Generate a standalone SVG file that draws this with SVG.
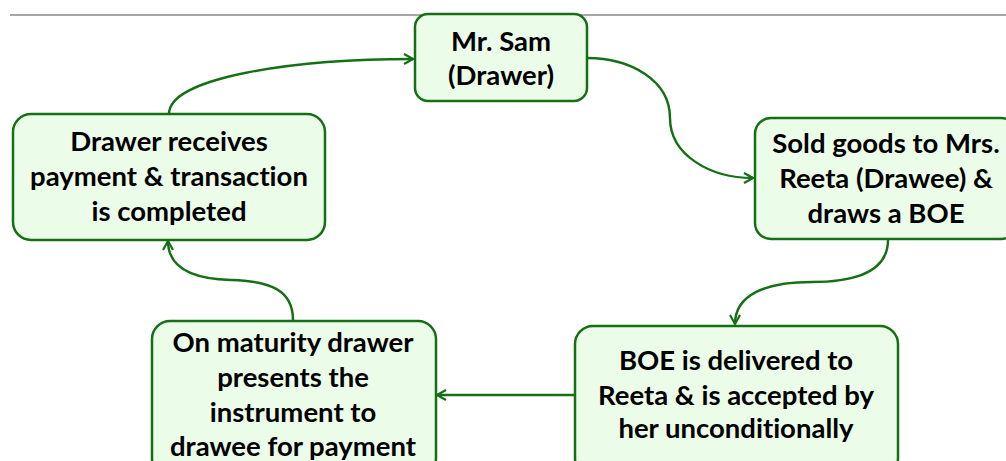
<svg xmlns="http://www.w3.org/2000/svg" width="1006" height="461" viewBox="0 0 1006 461">
<defs>
<style>
.box{fill:#EBFCE8;stroke:#157015;stroke-width:2.5}
.conn{fill:none;stroke:#157015;stroke-width:2.4;marker-end:url(#arr)}
text{font-family:Lato,"Liberation Sans",sans-serif;font-weight:bold;font-size:27.5px;fill:#000;text-anchor:middle;font-variant-ligatures:none}
</style>
<marker id="arr" viewBox="0 0 12 12" refX="10" refY="6" markerWidth="12" markerHeight="12" markerUnits="userSpaceOnUse" orient="auto">
<path d="M1,1 L10,6 L1,11" fill="none" stroke="#157015" stroke-width="2.2"/>
</marker>
</defs>
<rect width="1006" height="461" fill="#fff"/>
<line x1="10" y1="15" x2="1006" y2="15" stroke="#8a8a8a" stroke-width="1.5"/>
<g id="connectors">
<path class="conn" d="M169,114 C169,78 290,59 413,59"/>
<path class="conn" d="M587,58 C630,58 670,80 670,118 C670,155 710,178 753,178"/>
<path class="conn" d="M888,240 C888,270 860,282 812,282 C765,282 735,295 735,324"/>
<path class="conn" d="M575,395 L437,395"/>
<path class="conn" d="M293,320 C293,290 270,281 231,280 C193,279 168,268 168,241"/>
</g>
<g id="n1">
<rect class="box" x="415" y="14" width="172" height="87" rx="13"/>
<text x="501" y="51">Mr. Sam</text>
<text x="501" y="85">(Drawer)</text>
</g>
<g id="n2">
<rect class="box" x="755" y="118" width="262" height="121" rx="16"/>
<text x="886" y="153">Sold goods to Mrs.</text>
<text x="886" y="188">Reeta (Drawee) &amp;</text>
<text x="886" y="223">draws a BOE</text>
</g>
<g id="n3">
<rect class="box" x="575" y="326" width="323" height="150" rx="18"/>
<text x="736" y="370">BOE is delivered to</text>
<text x="736" y="405">Reeta &amp; is accepted by</text>
<text x="736" y="438">her unconditionally</text>
</g>
<g id="n4">
<rect class="box" x="152" y="321" width="284" height="155" rx="18"/>
<text x="293" y="352">On maturity drawer</text>
<text x="293" y="387">presents the</text>
<text x="293" y="422">instrument to</text>
<text x="293" y="456">drawee for payment</text>
</g>
<g id="n5">
<rect class="box" x="13" y="114" width="312" height="126" rx="18"/>
<text x="169" y="151">Drawer receives</text>
<text x="169" y="186">payment &amp; transaction</text>
<text x="169" y="221">is completed</text>
</g>
</svg>
